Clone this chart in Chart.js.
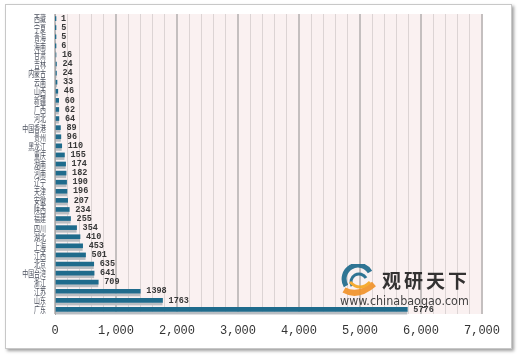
<!DOCTYPE html>
<html><head><meta charset="utf-8">
<script src="https://cdn.jsdelivr.net/npm/chart.js@4.4.1/dist/chart.umd.min.js"></script>
<style>
html,body{margin:0;padding:0;background:#fff;width:520px;height:355px;overflow:hidden}
#frame{position:absolute;left:5px;top:4px;width:505px;height:343px;border:1px solid #c8c8c8;box-shadow:2px 2px 3px #a0a0a0;background:#fff}
#wrap{position:absolute;left:0;top:0;width:520px;height:355px}
#wm{position:absolute;left:338px;top:264px;width:180px;height:46px;opacity:0.92;pointer-events:none}
#wm .t{position:absolute;left:44px;top:2px;font:bold 19px "Noto Sans CJK SC";color:#222;letter-spacing:3px}
#wm .u{position:absolute;left:2px;top:30px;font:12px "DejaVu Sans";color:#333;transform:scaleX(0.93);transform-origin:left}
</style></head><body>
<div id="frame"></div>
<div id="wrap"><canvas id="c" width="520" height="355"></canvas></div>
<div id="wm">
<svg width="40" height="34" style="position:absolute;left:2px;top:0">
<path d="M6 22 A13 13 0 0 1 30 8" stroke="#1f6b8c" stroke-width="5" fill="none"/>
<path d="M12 22 A8 8 0 0 1 26 14" stroke="#1f6b8c" stroke-width="3" fill="none"/>
<path d="M4 26 Q18 34 34 20" stroke="#f0932b" stroke-width="6" fill="none"/>
<path d="M10 18 Q20 28 30 18" stroke="#f5a623" stroke-width="3" fill="none"/>
</svg>
<div class="t">观研天下</div>
<div class="u">www.chinabaogao.com</div>
</div>
<script>
const categories = ["西藏","宁夏","青海","海南","甘肃","吉林","内蒙古","云南","山西","新疆","广西","河北","中国香港","贵州","黑龙江","重庆","湖南","河南","辽宁","天津","安徽","陕西","福建","四川","湖北","上海","江西","北京","中国台湾","浙江","江苏","山东","广东"];
const values = [1,5,5,6,16,24,24,33,46,60,62,64,89,96,110,155,174,182,190,196,207,234,255,354,410,453,501,635,641,709,1398,1763,5776];
const xTicks = [0,1000,2000,3000,4000,5000,6000,7000];

const shadowAndLabels = {
  id:'sl',
  beforeDatasetsDraw(chart){
    const ctx = chart.ctx, meta = chart.getDatasetMeta(0);
    ctx.save();
    ctx.fillStyle = '#b9bdc2';
    meta.data.forEach(b=>{
      ctx.fillRect(b.base, b.y + b.height/2, b.x - b.base, 3);
    });
    ctx.restore();
  },
  afterDatasetsDraw(chart){
    const ctx = chart.ctx, meta = chart.getDatasetMeta(0);
    ctx.save();
    ctx.font = 'bold 8.5px "Liberation Mono"';
    ctx.fillStyle = '#383838';
    ctx.textBaseline = 'middle';
    meta.data.forEach((b,i)=>{
      ctx.fillText(String(values[i]), b.x + 6, b.y);
    });
    ctx.font = '9px "Noto Sans CJK SC"';
    ctx.fillStyle = '#4a4f5c';
    ctx.textAlign = 'right';
    const ys = chart.scales.y;
    categories.forEach((c,i)=>{
      const y = ys.getPixelForValue(i);
      ctx.save();
      ctx.translate(46, y);
      ctx.scale(0.66,1);
      ctx.fillText(c, 0, 0.5);
      ctx.restore();
    });
    ctx.restore();
  }
};
const bgPlugin = {
  id:'bg',
  beforeDraw(chart){
    const {ctx, chartArea:a} = chart;
    ctx.save(); ctx.fillStyle='#faf1f1';
    ctx.fillRect(a.left,a.top,a.right-a.left,a.bottom-a.top); ctx.restore();
  }
};

new Chart(document.getElementById('c'), {
  type:'bar',
  data:{ labels:categories, datasets:[{ data:values, backgroundColor:'#1f6b8c', barThickness:4 }] },
  options:{
    indexAxis:'y', responsive:false, animation:false,
    layout:{ padding:{ top:14, right:38, bottom:14, left:0 } },
    plugins:{ legend:{display:false}, tooltip:{enabled:false} },
    scales:{
      x:{ min:0, max:7000,
        afterBuildTicks(s){ const t=[]; for(let v=0;v<=7000;v+=200) t.push({value:v}); s.ticks=t; },
        afterFit(s){ s.height = 27; },
        grid:{ drawTicks:false, color:ctx=> (ctx.tick && ctx.tick.value%1000===0) ? '#c4bfbf' : '#dcd4d4',
               lineWidth:ctx=> (ctx.tick && ctx.tick.value%1000===0) ? 2 : 1 },
        border:{ display:false },
        ticks:{ autoSkip:false, maxRotation:0, padding:10, color:'#333',
          font:{ family:'"Liberation Mono"', size:12 },
          callback:v=> xTicks.includes(v) ? v.toLocaleString('en-US') : '' } },
      y:{ afterFit(s){ s.width = 55; },
        grid:{ display:false, drawTicks:false },
        border:{ display:true, color:'#a8a8a8', width:1 },
        ticks:{ display:false } }
    }
  },
  plugins:[bgPlugin, shadowAndLabels]
});
</script>
</body></html>
